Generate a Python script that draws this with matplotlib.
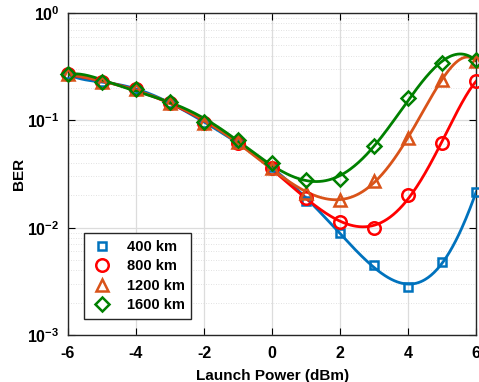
import numpy as np
import matplotlib
matplotlib.use("Agg")
import matplotlib.pyplot as plt
from matplotlib.ticker import LogLocator, FixedLocator, FuncFormatter, NullFormatter

plt.rcParams['font.family'] = ['Liberation Sans', 'DejaVu Sans']
plt.rcParams['font.weight'] = 'bold'
plt.rcParams['axes.unicode_minus'] = False
plt.rcParams['mathtext.fontset'] = 'custom'
plt.rcParams['mathtext.rm'] = 'Liberation Sans:bold'
plt.rcParams['mathtext.bf'] = 'Liberation Sans:bold'
plt.rcParams['mathtext.it'] = 'Liberation Sans:bold'

power = [-6, -5, -4, -3, -2, -1, 0, 1, 2, 3, 4, 5, 6]
ber_400 = [0.269, 0.228, 0.195, 0.146, 0.095, 0.062, 0.037, 0.0179, 0.0089, 0.0045, 0.0028, 0.0048, 0.0214]
ber_800 = [0.269, 0.228, 0.195, 0.146, 0.095, 0.062, 0.036, 0.019, 0.0113, 0.0099, 0.0203, 0.061, 0.233]
ber_1200 = [0.269, 0.228, 0.195, 0.146, 0.095, 0.063, 0.036, 0.021, 0.018, 0.027, 0.069, 0.24, 0.358]
ber_1600 = [0.269, 0.23, 0.197, 0.148, 0.097, 0.065, 0.040, 0.028, 0.0285, 0.0575, 0.163, 0.341, 0.363]
labels = ['400 km', '800 km', '1200 km', '1600 km']
colors = ['#0072BD', '#FF0000', '#D95319', '#008000']
markers = ['s', 'o', '^', 'D']
msizes = [6, 9, 9, 7.5]
fit_degree = 7

fig = plt.figure(figsize=(4.79, 3.82), dpi=100)
ax = fig.add_axes([0.142, 0.123, 0.852, 0.843])

xs = np.linspace(-6, 6, 400)
series = [ber_400, ber_800, ber_1200, ber_1600]
for ser, lab, col, mk, ms in zip(series, labels, colors, markers, msizes):
    coef = np.polyfit(power, np.log10(ser), fit_degree)
    ax.plot(xs, 10 ** np.polyval(coef, xs), color=col, lw=2, zorder=3)
    ax.plot(power, ser, linestyle='none', marker=mk, ms=ms, mfc='none',
            mec=col, mew=1.8, label=lab, zorder=4, clip_on=False)

ax.set_yscale('log')
ax.set_xlim(-6, 6)
ax.set_ylim(1e-3, 1)
ax.xaxis.set_major_locator(FixedLocator([-6, -4, -2, 0, 2, 4, 6]))
ax.yaxis.set_major_locator(LogLocator(base=10, numticks=10))
ax.yaxis.set_minor_locator(LogLocator(base=10, subs=np.arange(2, 10), numticks=20))
ax.yaxis.set_minor_formatter(NullFormatter())
ax.yaxis.set_major_formatter(FuncFormatter(lambda v, p: r'$\mathbf{10^{%d}}$' % int(round(np.log10(v)))))

ax.grid(True, which='major', color='#dcdcdc', lw=0.9, ls='-')
ax.grid(True, which='minor', axis='y', color='#d8d8d8', lw=0.6, ls=(0, (1, 2)))
ax.set_axisbelow(True)
ax.tick_params(which='both', direction='in', top=True, right=True, labelsize=11.5, width=0.8)
ax.tick_params(axis='x', which='major', length=5, pad=8)
ax.tick_params(axis='y', which='major', length=5, pad=6)
ax.tick_params(which='minor', length=0)
for lbl in ax.get_xticklabels():
    lbl.set_fontweight('bold')
for s in ax.spines.values():
    s.set_color('#262626')
    s.set_linewidth(1.0)

ax.set_xlabel('Launch Power (dBm)', fontsize=11, fontweight='bold', labelpad=6)
ax.set_ylabel('BER', fontsize=11, fontweight='bold', labelpad=1)

leg = ax.legend(loc='lower left', bbox_to_anchor=(0.039, 0.05), borderaxespad=0,
                fontsize=10.5, frameon=True, fancybox=False, edgecolor='#262626',
                framealpha=1, handlelength=1.6, handletextpad=0.9, labelspacing=0.38,
                borderpad=0.45)
leg.get_frame().set_linewidth(1.0)
for t in leg.get_texts():
    t.set_fontweight('bold')

fig.savefig('out.png', dpi=100)
